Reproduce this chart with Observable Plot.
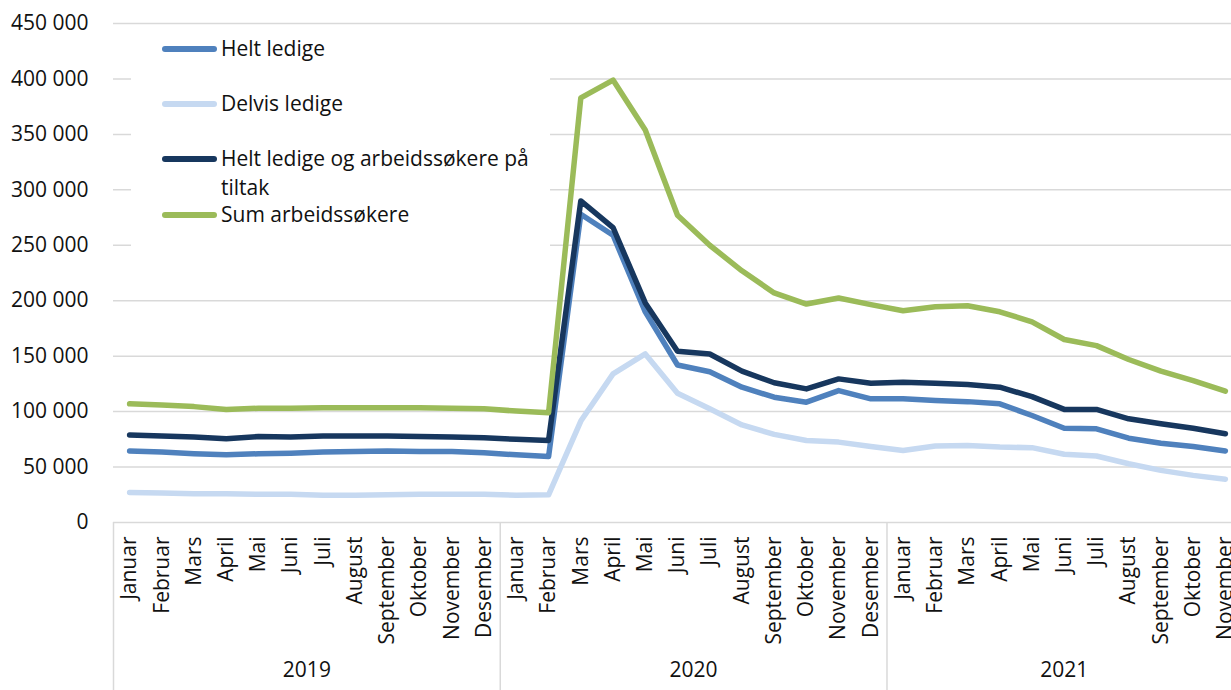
<!DOCTYPE html>
<html>
<head>
<meta charset="utf-8">
<script src="https://cdn.jsdelivr.net/npm/d3@7"></script>
<script src="https://cdn.jsdelivr.net/npm/@observablehq/plot@0.6"></script>
<style>
  html, body { margin: 0; padding: 0; background: #fff; overflow: hidden; }
  #wrap { position: relative; width: 1231px; height: 690px; overflow: hidden; font-family: "Open Sans", sans-serif; }
  #chart svg { max-width: none !important; }
  #legend { position: absolute; left: 131px; top: 27px; width: 419px; height: 228px; background: #fff; }
  .item { position: absolute; left: 31px; display: flex; align-items: flex-start; }
  .swatch { width: 55px; height: 6px; border-radius: 3px; margin-top: 12px; margin-right: 4px; flex: none; }
  .label { font-size: 21px; line-height: 29px; color: #111; width: 318px; }
</style>
</head>
<body>
<div id="wrap"><div id="chart"></div><div id="legend"></div></div>
<script>
const monthNames = ["Januar","Februar","Mars","April","Mai","Juni","Juli","August","September","Oktober","November","Desember"];
const years = [2019, 2020, 2021];
const monthsPerYear = [12, 12, 11];

const seriesNames = ["Helt ledige", "Delvis ledige", "Helt ledige og arbeidssøkere på tiltak", "Sum arbeidssøkere"];
const seriesColors = ["#4f81bd", "#c6d9f1", "#17375e", "#9bbb59"];

const heltLedige = [
  64500, 63500, 62000, 61000, 62000, 62500, 63500, 64000, 64500, 64000, 64000, 63000,
  61000, 59500, 278000, 259000, 190000, 142000, 136000, 122000, 113000, 108500, 119000, 111500,
  111500, 110000, 109000, 107000, 96500, 85000, 84500, 76000, 71500, 68500, 64500
];
const delvisLedige = [
  27000, 26500, 26000, 26000, 25500, 25500, 24500, 24500, 25000, 25500, 25500, 25500,
  24500, 25000, 91500, 134000, 152000, 116500, 102500, 88000, 79500, 74000, 72500, 68500,
  65000, 69000, 69500, 68000, 67500, 61500, 60000, 53000, 47000, 42500, 39000
];
const heltLedigeTiltak = [
  79000, 78000, 77000, 75500, 77500, 77000, 78000, 78000, 78000, 77500, 77000, 76500,
  75000, 74000, 290000, 266000, 198000, 154500, 152000, 136500, 126000, 120500, 129500, 125500,
  126500, 125500, 124500, 122000, 113500, 102000, 102000, 93500, 89000, 85000, 80000
];
const sumArbeidssokere = [
  107000, 106000, 104500, 102000, 103000, 103000, 103500, 103500, 103500, 103500, 103000, 102500,
  100500, 99000, 383000, 399000, 354000, 277000, 250000, 227000, 207000, 197000, 202500, 196500,
  191000, 194500, 195500, 190000, 181000, 165000, 159500, 147000, 136500, 128000, 118500
];
const yTicks = [0, 50000, 100000, 150000, 200000, 250000, 300000, 350000, 400000, 450000];

// build category list
const cats = [];
years.forEach((y, yi) => {
  for (let m = 0; m < monthsPerYear[yi]; m++) cats.push({i: cats.length, year: y, month: monthNames[m]});
});
const seriesValues = [heltLedige, delvisLedige, heltLedigeTiltak, sumArbeidssokere];
const rows = [];
seriesValues.forEach((vals, s) => vals.forEach((v, i) => rows.push({i, value: v, series: seriesNames[s]})));

const groups = years.map(y => {
  const idx = cats.filter(c => c.year === y).map(c => c.i);
  return {year: String(y), start: d3.min(idx) - 0.5, end: d3.max(idx) + 0.5};
});
const boundaries = groups.map(g => g.start);

const fmt = v => d3.format(",")(v).replace(/,/g, " ");
const font = "'Open Sans', sans-serif";

const chart = Plot.plot({
  width: 1241,
  height: 690,
  marginLeft: 113,
  marginRight: 0,
  marginTop: 23,
  marginBottom: 168,
  style: {fontFamily: font, fontSize: "21px", color: "#111", background: "#fff", maxWidth: "none"},
  x: {type: "linear", domain: [-0.5, cats.length - 0.5]},
  y: {domain: [0, 450000]},
  color: {domain: seriesNames, range: seriesColors},
  marks: [
    Plot.gridY(yTicks.filter(t => t > 0), {stroke: "#d9d9d9", strokeOpacity: 1, strokeWidth: 1.5}),
    Plot.ruleY([0], {stroke: "#d9d9d9", strokeWidth: 1.5}),
    Plot.ruleX(boundaries, {x: d => d, y1: 0, y2: 0, insetBottom: -168, stroke: "#d9d9d9", strokeWidth: 1.5}),
    Plot.axisY({ticks: yTicks, tickSize: 0, tickPadding: 25, tickFormat: fmt, fontSize: 21, label: null}),
    Plot.axisX({ticks: cats.map(c => c.i), tickFormat: i => cats[i] ? cats[i].month : "", tickRotate: -90, tickSize: 0, tickPadding: 14, fontSize: 21, label: null}),
    Plot.text(groups, {x: d => (d.start + d.end) / 2, text: "year", frameAnchor: "bottom", dy: 154, fontSize: 21, fill: "#111"}),
    Plot.line(rows, {x: "i", y: "value", z: "series", stroke: "series", strokeWidth: 5.5, strokeLinecap: "round", strokeLinejoin: "round"})
  ]
});
document.getElementById("chart").appendChild(chart);

// legend
const legendTops = [21, 76, 131, 187];
const legend = document.getElementById("legend");
seriesNames.forEach((name, k) => {
  const it = document.createElement("div");
  it.className = "item";
  it.style.top = (legendTops[k] - 14.5) + "px";
  const sw = document.createElement("span");
  sw.className = "swatch";
  sw.style.background = seriesColors[k];
  const lb = document.createElement("span");
  lb.className = "label";
  lb.textContent = name;
  it.appendChild(sw); it.appendChild(lb);
  legend.appendChild(it);
});
</script>
</body>
</html>
